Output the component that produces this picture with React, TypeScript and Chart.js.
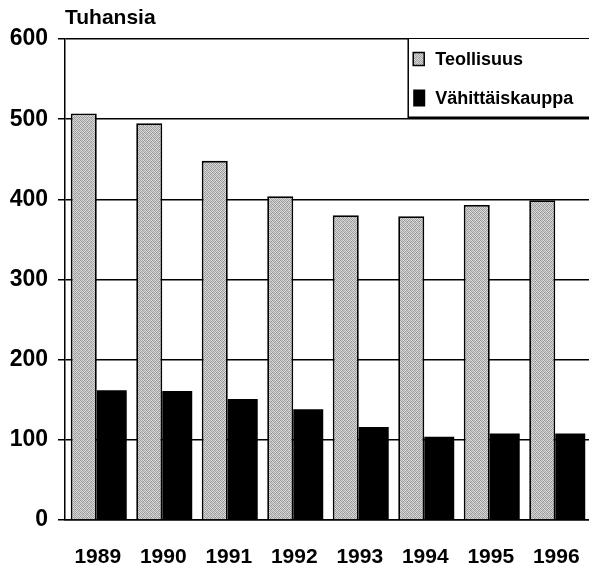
import React, { useEffect, useRef } from "react";
import { Chart, registerables } from "chart.js";

Chart.register(...registerables);

const categories = ["1989", "1990", "1991", "1992", "1993", "1994", "1995", "1996"];
const teollisuus = [507, 495, 448, 404, 380, 379, 393, 399];
const vahittaiskauppa = [162, 161, 151, 138, 116, 104, 108, 108];
const seriesLabels = ["Teollisuus", "Vähittäiskauppa"];
const unitLabel = "Tuhansia";
const yMax = 600;
const yStep = 100;

const FONT = "'Liberation Sans', Arial, sans-serif";

function makePattern(): CanvasPattern | string {
  const c = document.createElement("canvas");
  c.width = 4;
  c.height = 4;
  const g = c.getContext("2d");
  if (!g) return "#b8b8b8";
  const shades = [
    ["#969696", "#d8d8d8", "#aaaaaa", "#e0e0e0"],
    ["#dadada", "#a0a0a0", "#cccccc", "#949494"],
    ["#b0b0b0", "#e2e2e2", "#9a9a9a", "#cacaca"],
    ["#d2d2d2", "#9e9e9e", "#d8d8d8", "#a6a6a6"],
  ];
  for (let y = 0; y < 4; y++)
    for (let x = 0; x < 4; x++) {
      g.fillStyle = shades[y][x];
      g.fillRect(x, y, 1, 1);
    }
  return g.createPattern(c, "repeat") || "#b8b8b8";
}

export default function App() {
  const ref = useRef<HTMLCanvasElement>(null);

  useEffect(() => {
    if (!ref.current) return;
    const pattern = makePattern();

    const titlePlugin = {
      id: "unitTitle",
      afterDraw(chart: any) {
        const { ctx, chartArea } = chart;
        ctx.save();
        ctx.fillStyle = "#000";
        ctx.font = `bold 21px ${FONT}`;
        ctx.textAlign = "left";
        ctx.textBaseline = "middle";
        ctx.fillText(unitLabel, chartArea.left, chartArea.top - 21);
        ctx.restore();
      },
    };

    const legendPlugin = {
      id: "boxLegend",
      afterDatasetsDraw(chart: any) {
        const { ctx, chartArea } = chart;
        const w = chartArea.right - chartArea.left;
        const x0 = chartArea.left + w * 0.655;
        const x1 = chart.width;
        const y0 = chartArea.top;
        const y1 = chart.scales.y.getPixelForValue(502.5);
        ctx.save();
        ctx.fillStyle = "#fff";
        ctx.fillRect(x0, y0, x1 - x0, y1 - y0);
        ctx.strokeStyle = "#000";
        ctx.lineWidth = 1.5;
        ctx.beginPath();
        ctx.moveTo(x0, y0);
        ctx.lineTo(x0, y1);
        ctx.lineTo(x1, y1);
        ctx.stroke();
        const rowYs = [y0 + 20, y0 + 59];
        ctx.font = `bold 18px ${FONT}`;
        ctx.textBaseline = "middle";
        ctx.textAlign = "left";
        chart.data.datasets.forEach((ds: any, i: number) => {
          const cy = rowYs[i];
          const mx = x0 + 5;
          if (i === 0) {
            ctx.fillStyle = pattern;
            ctx.fillRect(mx, cy - 6.5, 11, 13);
            ctx.strokeStyle = "#000";
            ctx.lineWidth = 1.5;
            ctx.strokeRect(mx, cy - 6.5, 11, 13);
          } else {
            ctx.fillStyle = "#000";
            ctx.fillRect(mx, cy - 8.5, 12, 17);
          }
          ctx.fillStyle = "#000";
          ctx.fillText(ds.label, x0 + 27, cy + 1);
        });
        ctx.restore();
      },
    };

    const chart = new Chart(ref.current, {
      type: "bar",
      data: {
        labels: categories,
        datasets: [
          {
            label: seriesLabels[0],
            data: teollisuus,
            backgroundColor: pattern as any,
            borderColor: "#000",
            borderWidth: 1.8,
            categoryPercentage: 0.855,
            barPercentage: 0.93,
          },
          {
            label: seriesLabels[1],
            data: vahittaiskauppa,
            backgroundColor: "#000",
            borderColor: "#000",
            borderWidth: 0,
            categoryPercentage: 0.855,
            barPercentage: 1.07,
          },
        ],
      },
      options: {
        animation: false,
        responsive: false,
        maintainAspectRatio: false,
        layout: { padding: { top: 39, left: 0, right: 0, bottom: 0 } },
        plugins: {
          legend: { display: false },
          tooltip: { enabled: false },
          title: { display: false },
        },
        scales: {
          x: {
            grid: { display: false, drawTicks: true, tickLength: 25 },
            border: { display: true, color: "#000", width: 1.5 },
            ticks: {
              color: "#000",
              font: { family: FONT, size: 21, weight: "bold" },
              padding: 0,
              maxRotation: 0,
            },
            afterFit(scale: any) {
              scale.height = 48;
            },
          },
          y: {
            min: 0,
            max: yMax,
            grid: { color: "#000", lineWidth: 1.5, tickLength: 7, drawTicks: true },
            border: { display: true, color: "#000", width: 1.5 },
            ticks: {
              stepSize: yStep,
              color: "#000",
              font: { family: FONT, size: 23, weight: "bold" },
              padding: 10,
            },
            afterFit(scale: any) {
              scale.width = 65;
            },
          },
        },
      },
      plugins: [legendPlugin, titlePlugin],
    });
    return () => chart.destroy();
  }, []);

  return (
    <div style={{ position: "fixed", left: 0, top: 0, width: 589, height: 568, background: "#fff" }}>
      <canvas ref={ref} width={589} height={568} style={{ display: "block", width: 589, height: 568 }} />
    </div>
  );
}
